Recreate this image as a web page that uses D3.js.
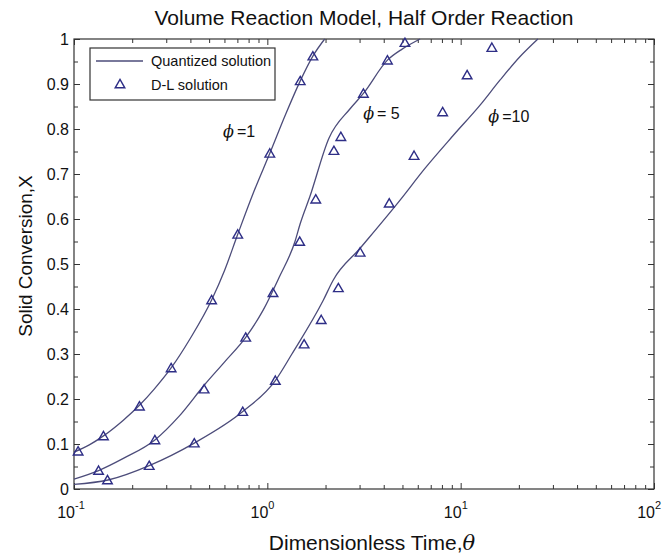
<!DOCTYPE html>
<html>
<head>
<meta charset="utf-8">
<script src="https://cdn.jsdelivr.net/npm/d3@7"></script>
<style>
  body { margin: 0; background: #fff; }
  svg text { font-family: "Liberation Sans", Arial, sans-serif; fill: #111; }
</style>
</head>
<body>
<div id="chart"></div>
<script>
// quantized solution curves (theta, X)
const lineT1 = [0.1, 0.12, 0.142, 0.18, 0.218, 0.26, 0.318, 0.4, 0.515, 0.6, 0.703, 0.85, 1.03, 1.25, 1.48, 1.72, 1.98];
const lineX1 = [0.082, 0.098, 0.118, 0.153, 0.186, 0.222, 0.269, 0.335, 0.42, 0.485, 0.566, 0.66, 0.746, 0.835, 0.907, 0.962, 1.0];
const lineT5 = [0.1, 0.134, 0.18, 0.262, 0.35, 0.47, 0.6, 0.773, 0.953, 1.15, 1.39, 1.48, 1.66, 2.08, 2.68, 3.14, 4.18, 5.0, 6.17];
const lineX5 = [0.022, 0.041, 0.068, 0.109, 0.162, 0.23, 0.282, 0.337, 0.398, 0.47, 0.55, 0.59, 0.65, 0.779, 0.845, 0.879, 0.953, 0.978, 1.0];
const lineT10 = [0.1, 0.15, 0.245, 0.419, 0.746, 1.10, 1.34, 1.95, 2.19, 3.02, 4.86, 6.55, 9.17, 12.6, 16.0, 20.3, 25.1];
const lineX10 = [0.0104, 0.02, 0.052, 0.102, 0.172, 0.241, 0.30, 0.42, 0.464, 0.535, 0.642, 0.713, 0.786, 0.853, 0.909, 0.961, 1.0];

// D-L solution points
const dlT1 = [0.105, 0.142, 0.218, 0.318, 0.515, 0.703, 1.03, 1.48, 1.72];
const dlX1 = [0.084, 0.118, 0.184, 0.269, 0.42, 0.566, 0.746, 0.907, 0.962];
const dlT5 = [0.134, 0.262, 0.471, 0.773, 1.07, 1.47, 1.78, 2.21, 2.40, 3.14, 4.18, 5.15];
const dlX5 = [0.041, 0.109, 0.222, 0.337, 0.436, 0.55, 0.644, 0.752, 0.783, 0.879, 0.953, 0.992];
const dlT10 = [0.149, 0.245, 0.419, 0.746, 1.10, 1.55, 1.90, 2.33, 3.02, 4.27, 5.74, 8.07, 10.8, 14.5];
const dlX10 = [0.02, 0.052, 0.102, 0.172, 0.241, 0.322, 0.376, 0.447, 0.526, 0.635, 0.741, 0.838, 0.920, 0.981];

const xDecades = [0.1, 1, 10, 100];
const xExponents = ["-1", "0", "1", "2"];
const yTicks = [0, 0.1, 0.2, 0.3, 0.4, 0.5, 0.6, 0.7, 0.8, 0.9, 1];
const yTickLabels = ["0", "0.1", "0.2", "0.3", "0.4", "0.5", "0.6", "0.7", "0.8", "0.9", "1"];
const phiLabels = [
  {t: 0.59, X: 0.782, txt: "=1"},
  {t: 3.13, X: 0.822, txt: "= 5"},
  {t: 13.9, X: 0.816, txt: "=10"}
];

const width = 664, height = 556;
const margin = {top: 39, right: 10, bottom: 67, left: 74};

const lineColor = "#4c4c7a";
const markColor = "#2e2e86";

const x = d3.scaleLog().domain([0.1, 100]).range([margin.left, width - margin.right]);
const y = d3.scaleLinear().domain([0, 1]).range([height - margin.bottom, margin.top]);

const svg = d3.select("#chart").append("svg")
  .attr("width", width)
  .attr("height", height);

// minor ticks
const xMinor = [];
for (let d of [0.1, 1, 10]) for (let k = 2; k <= 9; k++) xMinor.push(d * k);
const yMinor = d3.range(0.05, 1, 0.1);

const axisColor = "#333";

// bottom / top ticks (pointing inward)
svg.append("g")
  .attr("transform", `translate(0,${y(0)})`)
  .call(d3.axisBottom(x).tickValues(xDecades).tickSize(-6).tickFormat(""))
  .call(g => g.select(".domain").remove());
svg.append("g")
  .attr("transform", `translate(0,${y(0)})`)
  .call(d3.axisBottom(x).tickValues(xMinor).tickSize(-4).tickFormat(""))
  .call(g => g.select(".domain").remove());
svg.append("g")
  .attr("transform", `translate(0,${y(1)})`)
  .call(d3.axisTop(x).tickValues(xDecades).tickSize(-6).tickFormat(""))
  .call(g => g.select(".domain").remove());
svg.append("g")
  .attr("transform", `translate(0,${y(1)})`)
  .call(d3.axisTop(x).tickValues(xMinor).tickSize(-4).tickFormat(""))
  .call(g => g.select(".domain").remove());

// left / right ticks
svg.append("g")
  .attr("transform", `translate(${x(0.1)},0)`)
  .call(d3.axisLeft(y).tickValues(yTicks).tickSize(-6).tickFormat(""))
  .call(g => g.select(".domain").remove());
svg.append("g")
  .attr("transform", `translate(${x(0.1)},0)`)
  .call(d3.axisLeft(y).tickValues(yMinor).tickSize(-4).tickFormat(""))
  .call(g => g.select(".domain").remove());
svg.append("g")
  .attr("transform", `translate(${x(100)},0)`)
  .call(d3.axisRight(y).tickValues(yTicks).tickSize(-6).tickFormat(""))
  .call(g => g.select(".domain").remove());
svg.append("g")
  .attr("transform", `translate(${x(100)},0)`)
  .call(d3.axisRight(y).tickValues(yMinor).tickSize(-4).tickFormat(""))
  .call(g => g.select(".domain").remove());

svg.selectAll(".tick line").attr("stroke", axisColor);

// frame
svg.append("rect")
  .attr("x", x(0.1)).attr("y", y(1))
  .attr("width", x(100) - x(0.1)).attr("height", y(0) - y(1))
  .attr("fill", "none").attr("stroke", axisColor).attr("stroke-width", 1.2);

// y tick labels
svg.append("g").selectAll("text")
  .data(yTicks)
  .join("text")
  .attr("x", x(0.1) - 5)
  .attr("y", d => y(d) + 6)
  .attr("text-anchor", "end")
  .attr("font-size", 16)
  .text((d, i) => yTickLabels[i]);

// x tick labels 10^n
const xl = svg.append("g").selectAll("g")
  .data(xDecades)
  .join("g");
xl.append("text")
  .attr("x", d => x(d) + 1)
  .attr("y", y(0) + 29)
  .attr("text-anchor", "end")
  .attr("font-size", 16)
  .text("10");
xl.append("text")
  .attr("x", d => x(d) + 1)
  .attr("y", y(0) + 20)
  .attr("font-size", 11)
  .text((d, i) => xExponents[i]);

// title and axis labels
svg.append("text")
  .attr("x", (x(0.1) + x(100)) / 2)
  .attr("y", 25)
  .attr("text-anchor", "middle")
  .attr("font-size", 21)
  .text("Volume Reaction Model, Half Order Reaction");

const xlab = svg.append("text")
  .attr("x", (x(0.1) + x(100)) / 2 + 8)
  .attr("y", 550)
  .attr("text-anchor", "middle")
  .attr("font-size", 21)
  .text("Dimensionless Time,");
xlab.append("tspan")
  .attr("font-family", "DejaVu Serif, serif")
  .attr("font-style", "italic")
  .text("θ");

svg.append("text")
  .attr("transform", `translate(32,${(y(0) + y(1)) / 2 - 8}) rotate(-90)`)
  .attr("text-anchor", "middle")
  .attr("font-size", 19)
  .text("Solid Conversion,X");

// curves
const line = d3.line()
  .x(d => x(d[0]))
  .y(d => y(d[1]))
  .curve(d3.curveMonotoneX);

const curves = [
  d3.zip(lineT1, lineX1),
  d3.zip(lineT5, lineX5),
  d3.zip(lineT10, lineX10)
];
svg.append("g").selectAll("path")
  .data(curves)
  .join("path")
  .attr("d", line)
  .attr("fill", "none")
  .attr("stroke", lineColor)
  .attr("stroke-width", 1.3);

// triangles
const tri = d3.symbol().type(d3.symbolTriangle).size(40);
const pts = [].concat(d3.zip(dlT1, dlX1), d3.zip(dlT5, dlX5), d3.zip(dlT10, dlX10));
svg.append("g").selectAll("path")
  .data(pts)
  .join("path")
  .attr("d", tri)
  .attr("transform", d => `translate(${x(d[0])},${y(d[1]) + 1})`)
  .attr("fill", "none")
  .attr("stroke", markColor)
  .attr("stroke-width", 1.4);

// phi labels
const pl = svg.append("g").selectAll("text")
  .data(phiLabels)
  .join("text")
  .attr("x", d => x(d.t))
  .attr("y", d => y(d.X))
  .attr("font-size", 16);
pl.append("tspan")
  .attr("font-family", "DejaVu Serif, serif")
  .attr("font-style", "italic")
  .text("ϕ");
pl.append("tspan").attr("dx", 3).text(d => d.txt);

// legend
const lg = svg.append("g");
lg.append("rect")
  .attr("x", 90).attr("y", 48)
  .attr("width", 185).attr("height", 52)
  .attr("fill", "#fff")
  .attr("stroke", axisColor)
  .attr("stroke-width", 1.2);
lg.append("line")
  .attr("x1", 96).attr("x2", 143)
  .attr("y1", 61).attr("y2", 61)
  .attr("stroke", lineColor)
  .attr("stroke-width", 1.3);
lg.append("text")
  .attr("x", 151).attr("y", 66)
  .attr("font-size", 14.5)
  .text("Quantized solution");
lg.append("path")
  .attr("d", tri)
  .attr("transform", "translate(120,85)")
  .attr("fill", "none")
  .attr("stroke", markColor)
  .attr("stroke-width", 1.4);
lg.append("text")
  .attr("x", 151).attr("y", 90)
  .attr("font-size", 14.5)
  .text("D-L solution");
</script>
</body>
</html>
